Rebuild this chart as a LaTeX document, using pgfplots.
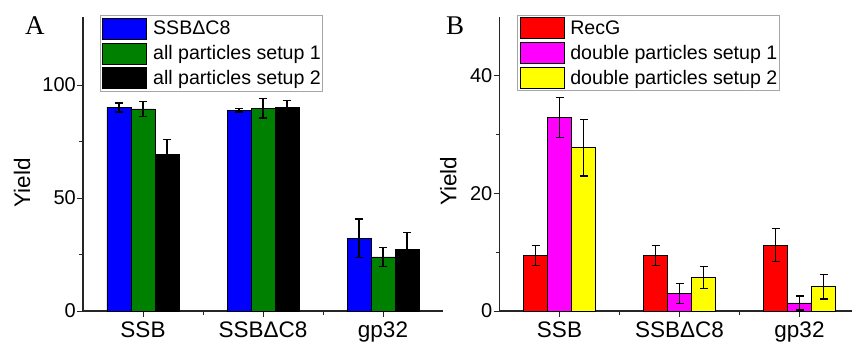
\documentclass[border=0pt]{standalone}
\usepackage{pgfplots}
\pgfplotsset{compat=1.18}
\usepackage{fontspec}
\setmainfont{Liberation Sans}
\newfontfamily\seriffont{Liberation Serif}
\definecolor{cgreen}{RGB}{0,128,0}
\definecolor{cblue}{RGB}{0,0,255}
\definecolor{cred}{RGB}{255,0,0}
\definecolor{cmag}{RGB}{255,0,255}
\definecolor{cyel}{RGB}{255,255,0}
\begin{document}
\begin{tikzpicture}
\useasboundingbox (0pt,0pt) rectangle (852pt,-342pt);
\pgfplotsset{
  mybar/.style={
    scale only axis,
    ybar=0pt, bar width=24pt,
    xmin=0.5, ymin=0,
    axis x line*=bottom, axis y line*=left,
    axis line style={line width=1.1pt, -, black!85},
    tick style={line width=1pt, black!85},
    tick align=outside,
    major tick length=6pt, minor tick length=4pt,
    xtick={1,2,3}, xticklabels={SSB, SSBΔC8, gp32},
    minor xtick={1.5,2.5},
    minor y tick num=1,
    /pgf/number format/assume math mode=true,
    xticklabel style={font=\fontsize{22.5}{26}\selectfont, inner sep=1pt, yshift=-4pt},
    yticklabel style={font=\fontsize{20}{24}\selectfont, inner sep=1pt},
    ylabel={Yield},
    every axis plot/.append style={draw=black, line width=0.8pt},
    error bars/y dir=both, error bars/y explicit,
    error bars/error bar style={line width=1.3pt, black},
    error bars/error mark options={rotate=90, line width=1.3pt, mark size=4pt, black},
    legend image code/.code={\draw[##1,draw=black,line width=0.8pt] (0pt,-10.5pt) rectangle (44pt,10.5pt);},
    legend cell align=left,
    legend style={anchor=north west, draw=gray!70, line width=0.8pt, inner sep=2pt,
      row sep=3pt, font=\fontsize{19.6}{22}\selectfont,
      nodes={inner sep=0pt},
      /tikz/every odd column/.append style={column sep=6pt}},
  }
}
\begin{axis}[mybar,
  at={(83pt,-311pt)}, anchor=south west,
  width=360pt, height=293.8pt,
  xmax=3.5, ymax=130,
  ytick={0,50,100},
  every axis y label/.style={at={(axis description cs:-0.169,0.437)}, rotate=90, anchor=center, font=\fontsize{22.5}{26}\selectfont},
  legend style={at={(axis description cs:0.047,1.006)}},
]
\addplot[fill=cblue] coordinates {(1,90.1) +- (0,2.0) (2,88.8) +- (0,0.8) (3,32.2) +- (0,8.5)};
\addplot[fill=cgreen] coordinates {(1,89.4) +- (0,3.3) (2,89.7) +- (0,4.3) (3,23.9) +- (0,4.2)};
\addplot[fill=black] coordinates {(1,69.3) +- (0,6.7) (2,90.1) +- (0,3.0) (3,27.3) +- (0,7.4)};
\legend{SSBΔC8, all particles setup 1, all particles setup 2}
\end{axis}
\begin{axis}[mybar,
  at={(499.5pt,-311pt)}, anchor=south west,
  width=352.5pt, height=294.5pt,
  xmax=3.4375, ymax=50,
  ytick={0,20,40},
  every axis y label/.style={at={(axis description cs:-0.145,0.441)}, rotate=90, anchor=center, font=\fontsize{22.5}{26}\selectfont},
  legend style={at={(axis description cs:0.05,1.005)}},
]
\addplot[fill=cred] coordinates {(1,9.46) +- (0,1.7) (2,9.46) +- (0,1.7) (3,11.2) +- (0,2.8)};
\addplot[fill=cmag] coordinates {(1,32.8) +- (0,3.4) (2,2.95) +- (0,1.7) (3,1.36) +- (0,1.2)};
\addplot[fill=cyel] coordinates {(1,27.7) +- (0,4.8) (2,5.67) +- (0,1.85) (3,4.14) +- (0,2.1)};
\legend{RecG, double particles setup 1, double particles setup 2}
\end{axis}
\node[anchor=base west, font=\seriffont\fontsize{27}{30}\selectfont, inner sep=0pt] at (25pt,-35pt) {A};
\node[anchor=base west, font=\seriffont\fontsize{27}{30}\selectfont, inner sep=0pt] at (446pt,-35pt) {B};
\end{tikzpicture}
\end{document}
